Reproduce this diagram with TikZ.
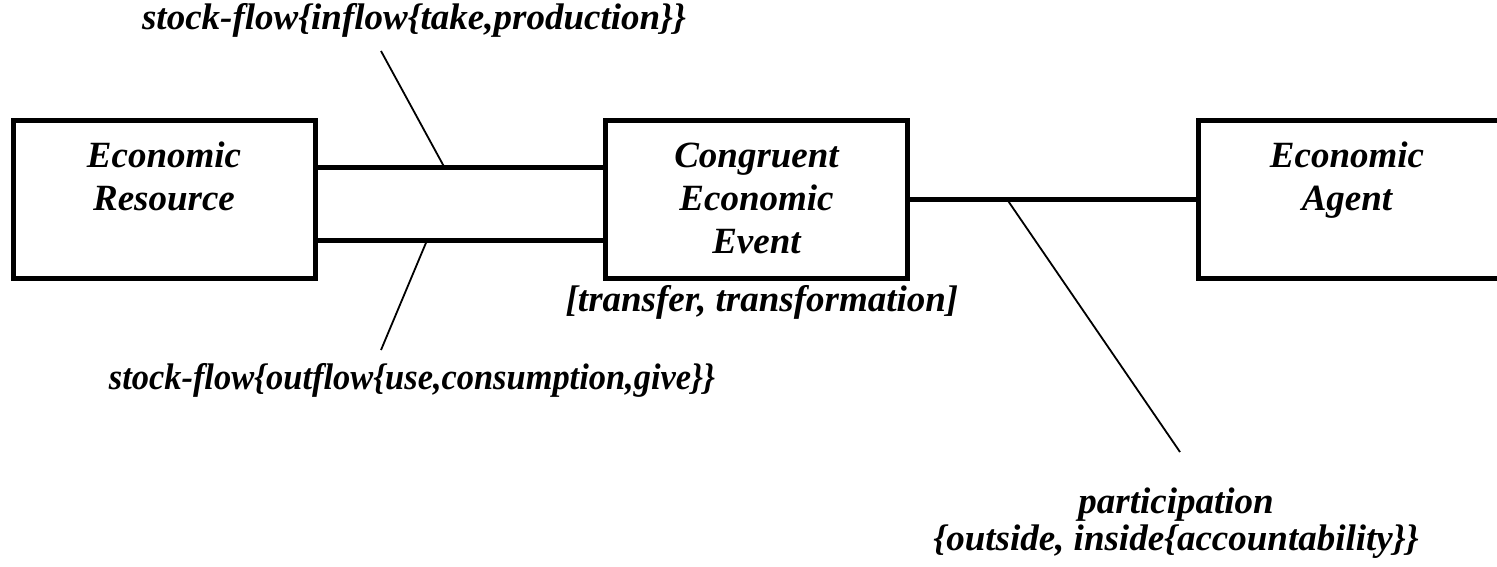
\documentclass[tikz,border=0pt]{standalone}
\usepackage{fontspec}
\setmainfont{Liberation Serif}
\usetikzlibrary{calc}
\begin{document}
\begin{tikzpicture}[x=1pt,y=-1pt,
  box/.style={draw, line width=5pt, minimum width=302pt, minimum height=158pt, inner sep=0pt},
  boxtext/.style={align=center, font=\fontsize{37}{43}\selectfont\bfseries\itshape, anchor=base, inner sep=0pt},
  lbl/.style={font=\fontsize{37}{37}\selectfont\bfseries\itshape, inner sep=0pt, anchor=base},
  link/.style={line width=5pt},
  leader/.style={line width=1.8pt}]
\clip (0,0) rectangle (1497,566);

% the three classes (multi-line labels sit on the baseline of their last line)
\node[box] (res) at (164,199) {};
\node[box] (ev)  at (756.5,199) {};
\node[box] (ag)  at (1349,199) {};

\node[boxtext] (resT) at (164,210) {Economic\\Resource};
\node[boxtext] (evT)  at (756.5,253) {Congruent\\Economic\\Event};
\node[boxtext] (agT)  at (1347,210) {Economic\\Agent};

% associations
\coordinate (inS)  at ($(res.north east)!0.304!(res.south east)$);
\coordinate (outS) at ($(res.north east)!0.752!(res.south east)$);
\draw[link] (inS)  -- coordinate[pos=0.444] (inM)  (inS -| ev.west);
\draw[link] (outS) -- coordinate[pos=0.384] (outM) (outS -| ev.west);
\draw[link] (ev.east) -- coordinate[pos=0.339] (partM) (ag.west);

% role labels
\node[lbl] (inL)  at (414,29)  {stock-flow\{inflow\{take,production\}\}};
\node[lbl] (outL) at (412,389) {\scalebox{0.93}[1]{stock-flow\{outflow\{use,consumption,give\}\}}};
\node[lbl] (evL)  at (762,311) {[transfer, transformation]};
\node[lbl, align=center] (partL) at (1176,550)
  {participation\\\{outside, inside\{accountability\}\}};

% leaders
\coordinate (inE)   at (381,51);
\coordinate (outE)  at (381,350);
\coordinate (partE) at (1180,452);
\draw[leader] (inM) -- (inE);
\draw[leader] (outM) -- (outE);
\draw[leader] (partM) -- (partE);
\end{tikzpicture}
\end{document}
